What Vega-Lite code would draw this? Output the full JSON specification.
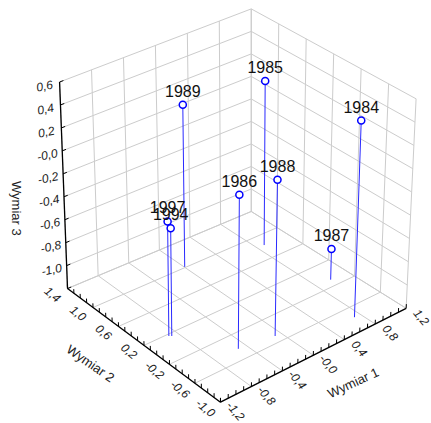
{
"$schema":"https://vega.github.io/schema/vega-lite/v6.json",
"width":431,"height":423,"padding":0,
"autosize":{"type":"fit","contains":"padding"},
"background":"white",
"config":{"view":{"stroke":null},"text":{"font":"Liberation Sans"}},
"datasets":{
"lines":[
{"g":"zL","t":-1.2},{"g":"zL","t":-1.0},{"g":"zL","t":-0.8},{"g":"zL","t":-0.6},{"g":"zL","t":-0.4},{"g":"zL","t":-0.2},{"g":"zL","t":0},{"g":"zL","t":0.2},{"g":"zL","t":0.4},{"g":"zL","t":0.6},
{"g":"zR","t":-1.2},{"g":"zR","t":-1.0},{"g":"zR","t":-0.8},{"g":"zR","t":-0.6},{"g":"zR","t":-0.4},{"g":"zR","t":-0.2},{"g":"zR","t":0},{"g":"zR","t":0.2},{"g":"zR","t":0.4},{"g":"zR","t":0.6},
{"g":"xL","t":-1.2},{"g":"xL","t":-0.8},{"g":"xL","t":-0.4},{"g":"xL","t":0},{"g":"xL","t":0.4},{"g":"xL","t":0.8},{"g":"xL","t":1.2},
{"g":"xF","t":-1.2},{"g":"xF","t":-0.8},{"g":"xF","t":-0.4},{"g":"xF","t":0},{"g":"xF","t":0.4},{"g":"xF","t":0.8},{"g":"xF","t":1.2},
{"g":"yR","t":-1.0},{"g":"yR","t":-0.6},{"g":"yR","t":-0.2},{"g":"yR","t":0.2},{"g":"yR","t":0.6},{"g":"yR","t":1.0},{"g":"yR","t":1.4},
{"g":"yF","t":-1.0},{"g":"yF","t":-0.6},{"g":"yF","t":-0.2},{"g":"yF","t":0.2},{"g":"yF","t":0.6},{"g":"yF","t":1.0},{"g":"yF","t":1.4},
{"g":"aX","t":0},{"g":"aY","t":0},{"g":"aZ","t":0},
{"g":"tX","t":-1.2},{"g":"tX","t":-1.1},{"g":"tX","t":-1.0},{"g":"tX","t":-0.9},{"g":"tX","t":-0.8},{"g":"tX","t":-0.7},{"g":"tX","t":-0.6},{"g":"tX","t":-0.5},{"g":"tX","t":-0.4},{"g":"tX","t":-0.3},{"g":"tX","t":-0.2},{"g":"tX","t":-0.1},{"g":"tX","t":0},{"g":"tX","t":0.1},{"g":"tX","t":0.2},{"g":"tX","t":0.3},{"g":"tX","t":0.4},{"g":"tX","t":0.5},{"g":"tX","t":0.6},{"g":"tX","t":0.7},{"g":"tX","t":0.8},{"g":"tX","t":0.9},{"g":"tX","t":1.0},{"g":"tX","t":1.1},{"g":"tX","t":1.2},
{"g":"tY","t":-1.0},{"g":"tY","t":-0.9},{"g":"tY","t":-0.8},{"g":"tY","t":-0.7},{"g":"tY","t":-0.6},{"g":"tY","t":-0.5},{"g":"tY","t":-0.4},{"g":"tY","t":-0.3},{"g":"tY","t":-0.2},{"g":"tY","t":-0.1},{"g":"tY","t":0},{"g":"tY","t":0.1},{"g":"tY","t":0.2},{"g":"tY","t":0.3},{"g":"tY","t":0.4},{"g":"tY","t":0.5},{"g":"tY","t":0.6},{"g":"tY","t":0.7},{"g":"tY","t":0.8},{"g":"tY","t":0.9},{"g":"tY","t":1.0},{"g":"tY","t":1.1},{"g":"tY","t":1.2},{"g":"tY","t":1.3},{"g":"tY","t":1.4},
{"g":"tZ","t":-1.2},{"g":"tZ","t":-1.0},{"g":"tZ","t":-0.8},{"g":"tZ","t":-0.6},{"g":"tZ","t":-0.4},{"g":"tZ","t":-0.2},{"g":"tZ","t":0},{"g":"tZ","t":0.2},{"g":"tZ","t":0.4},{"g":"tZ","t":0.6}
],
"pts":[
{"year":"1984","w1":0.725,"w2":-0.768,"w3":0.489},
{"year":"1985","w1":0.888,"w2":0.829,"w3":0.242},
{"year":"1986","w1":-0.497,"w2":-0.429,"w3":0.117},
{"year":"1987","w1":0.981,"w2":-0.092,"w3":-0.934},
{"year":"1988","w1":-0.076,"w2":-0.496,"w3":0.138},
{"year":"1989","w1":0.005,"w2":1.011,"w3":0.219},
{"year":"1997","w1":-0.900,"w2":0.172,"w3":-0.216},
{"year":"1994","w1":-0.877,"w2":0.154,"w3":-0.275}
],
"zlab":[{"t":0.6,"lab":"0,6"},{"t":0.4,"lab":"0,4"},{"t":0.2,"lab":"0,2"},{"t":0,"lab":"-0,0"},{"t":-0.2,"lab":"-0,2"},{"t":-0.4,"lab":"-0,4"},{"t":-0.6,"lab":"-0,6"},{"t":-0.8,"lab":"-0,8"},{"t":-1.0,"lab":"-1,0"}],
"xlab":[{"t":-1.2,"lab":"-1,2"},{"t":-0.8,"lab":"-0,8"},{"t":-0.4,"lab":"-0,4"},{"t":0,"lab":"-0,0"},{"t":0.4,"lab":"0,4"},{"t":0.8,"lab":"0,8"},{"t":1.2,"lab":"1,2"}],
"ylab":[{"t":-1.0,"lab":"-1,0"},{"t":-0.6,"lab":"-0,6"},{"t":-0.2,"lab":"-0,2"},{"t":0.2,"lab":"0,2"},{"t":0.6,"lab":"0,6"},{"t":1.0,"lab":"1,0"},{"t":1.4,"lab":"1,4"}]
},
"layer":[
{"data":{"name":"lines"},
"transform":[
{"calculate":"(datum.t+1.2)/2.4","as":"U"},
{"calculate":"(datum.t+1)/2.4","as":"V"},
{"calculate":"(datum.t+1.2)/1.8","as":"Wt"},
{"calculate":"indexof(['xL','xF','tX'],datum.g)>=0 ? datum.U : (indexof(['zR','yR'],datum.g)>=0 ? 1 : 0)","as":"ua"},
{"calculate":"indexof(['yR','yF','tY'],datum.g)>=0 ? datum.V : (indexof(['zL','xL','aZ','tZ'],datum.g)>=0 ? 1 : 0)","as":"va"},
{"calculate":"indexof(['zL','zR','tZ'],datum.g)>=0 ? datum.Wt : 0","as":"wa"},
{"calculate":"indexof(['xL','xF','tX'],datum.g)>=0 ? datum.U : (datum.g=='tZ' ? 0.02 : (indexof(['aY','aZ','tY'],datum.g)>=0 ? 0 : 1))","as":"ub"},
{"calculate":"indexof(['yR','yF','tY'],datum.g)>=0 ? datum.V : (indexof(['aX','tX'],datum.g)>=0 ? 0 : 1)","as":"vb"},
{"calculate":"indexof(['zL','zR','tZ'],datum.g)>=0 ? datum.Wt : (indexof(['xL','yR','aZ'],datum.g)>=0 ? 1 : (indexof(['tX','tY'],datum.g)>=0 ? 0.02 : 0))","as":"wb"},
{"calculate":"(1-datum.wa)*(222+187*datum.ua-154*datum.va-2*datum.ua*datum.va)+datum.wa*(223+196*datum.ua-163*datum.va-3*datum.ua*datum.va)","as":"xa"},
{"calculate":"(1-datum.wa)*(407-95*datum.ua-115*datum.va+17*datum.ua*datum.va)+datum.wa*(191-91*datum.ua-108*datum.va+17*datum.ua*datum.va)","as":"ya"},
{"calculate":"(1-datum.wb)*(222+187*datum.ub-154*datum.vb-2*datum.ub*datum.vb)+datum.wb*(223+196*datum.ub-163*datum.vb-3*datum.ub*datum.vb)","as":"xb"},
{"calculate":"(1-datum.wb)*(407-95*datum.ub-115*datum.vb+17*datum.ub*datum.vb)+datum.wb*(191-91*datum.ub-108*datum.vb+17*datum.ub*datum.vb)","as":"yb"}
],
"mark":{"type":"rule"},
"encoding":{
"x":{"field":"xa","type":"quantitative","scale":{"domain":[0,431],"nice":false,"zero":false},"axis":null},
"y":{"field":"ya","type":"quantitative","scale":{"domain":[0,423],"reverse":true,"nice":false,"zero":false},"axis":null},
"x2":{"field":"xb"},"y2":{"field":"yb"},
"color":{"condition":{"test":"indexof(['aX','aY','aZ','tX','tY','tZ'],datum.g)>=0","value":"#000000"},"value":"#cccccc"},
"strokeWidth":{"condition":{"test":"indexof(['aX','aY','aZ'],datum.g)>=0","value":1.3},"value":1}
}},
{"data":{"name":"pts"},
"transform":[
{"calculate":"(datum.w1+1.2)/2.4","as":"ua"},
{"calculate":"(datum.w2+1)/2.4","as":"va"},
{"calculate":"0","as":"wa"},
{"calculate":"datum.ua","as":"ub"},
{"calculate":"datum.va","as":"vb"},
{"calculate":"(datum.w3+1.2)/1.8","as":"wb"},
{"calculate":"(1-datum.wa)*(222+187*datum.ua-154*datum.va-2*datum.ua*datum.va)+datum.wa*(223+196*datum.ua-163*datum.va-3*datum.ua*datum.va)","as":"xa"},
{"calculate":"(1-datum.wa)*(407-95*datum.ua-115*datum.va+17*datum.ua*datum.va)+datum.wa*(191-91*datum.ua-108*datum.va+17*datum.ua*datum.va)","as":"ya"},
{"calculate":"(1-datum.wb)*(222+187*datum.ub-154*datum.vb-2*datum.ub*datum.vb)+datum.wb*(223+196*datum.ub-163*datum.vb-3*datum.ub*datum.vb)","as":"xb"},
{"calculate":"(1-datum.wb)*(407-95*datum.ub-115*datum.vb+17*datum.ub*datum.vb)+datum.wb*(191-91*datum.ub-108*datum.vb+17*datum.ub*datum.vb)","as":"yb"}
],
"layer":[
{"mark":{"type":"rule","color":"#2a2aff","strokeWidth":1},
"encoding":{
"x":{"field":"xa","type":"quantitative","scale":{"domain":[0,431],"nice":false,"zero":false},"axis":null},
"y":{"field":"ya","type":"quantitative","scale":{"domain":[0,423],"reverse":true,"nice":false,"zero":false},"axis":null},
"x2":{"field":"xb"},"y2":{"field":"yb"}}},
{"mark":{"type":"circle","fill":"white","stroke":"#0000ff","strokeWidth":1.5,"size":50,"opacity":1,"fillOpacity":1},
"encoding":{
"x":{"field":"xb","type":"quantitative","scale":{"domain":[0,431],"nice":false,"zero":false},"axis":null},
"y":{"field":"yb","type":"quantitative","scale":{"domain":[0,423],"reverse":true,"nice":false,"zero":false},"axis":null}}},
{"mark":{"type":"text","fontSize":16,"color":"#111111","dy":-8,"baseline":"alphabetic","align":"center"},
"encoding":{
"x":{"field":"xb","type":"quantitative","scale":{"domain":[0,431],"nice":false,"zero":false},"axis":null},
"y":{"field":"yb","type":"quantitative","scale":{"domain":[0,423],"reverse":true,"nice":false,"zero":false},"axis":null},
"text":{"field":"year"}}}
]},
{"data":{"name":"zlab"},
"transform":[
{"calculate":"0","as":"ua"},{"calculate":"1","as":"va"},{"calculate":"(datum.t+1.2)/1.8","as":"wa"},
{"calculate":"(1-datum.wa)*(222+187*datum.ua-154*datum.va-2*datum.ua*datum.va)+datum.wa*(223+196*datum.ua-163*datum.va-3*datum.ua*datum.va)","as":"xa"},
{"calculate":"(1-datum.wa)*(407-95*datum.ua-115*datum.va+17*datum.ua*datum.va)+datum.wa*(191-91*datum.ua-108*datum.va+17*datum.ua*datum.va)","as":"ya"}
],
"mark":{"type":"text","fontSize":12,"fontStyle":"italic","color":"#222222","angle":-12,"dx":-15.5,"dy":1,"align":"center","baseline":"middle"},
"encoding":{
"x":{"field":"xa","type":"quantitative","scale":{"domain":[0,431],"nice":false,"zero":false},"axis":null},
"y":{"field":"ya","type":"quantitative","scale":{"domain":[0,423],"reverse":true,"nice":false,"zero":false},"axis":null},
"text":{"field":"lab"}}},
{"data":{"name":"xlab"},
"transform":[
{"calculate":"(datum.t+1.2)/2.4","as":"ua"},{"calculate":"0","as":"va"},{"calculate":"0","as":"wa"},
{"calculate":"(1-datum.wa)*(222+187*datum.ua-154*datum.va-2*datum.ua*datum.va)+datum.wa*(223+196*datum.ua-163*datum.va-3*datum.ua*datum.va)","as":"xa"},
{"calculate":"(1-datum.wa)*(407-95*datum.ua-115*datum.va+17*datum.ua*datum.va)+datum.wa*(191-91*datum.ua-108*datum.va+17*datum.ua*datum.va)","as":"ya"}
],
"mark":{"type":"text","fontSize":12,"fontStyle":"italic","color":"#222222","angle":50,"dx":16.5,"dy":-5.7,"align":"center","baseline":"middle"},
"encoding":{
"x":{"field":"xa","type":"quantitative","scale":{"domain":[0,431],"nice":false,"zero":false},"axis":null},
"y":{"field":"ya","type":"quantitative","scale":{"domain":[0,423],"reverse":true,"nice":false,"zero":false},"axis":null},
"text":{"field":"lab"}}},
{"data":{"name":"ylab"},
"transform":[
{"calculate":"0","as":"ua"},{"calculate":"(datum.t+1)/2.4","as":"va"},{"calculate":"0","as":"wa"},
{"calculate":"(1-datum.wa)*(222+187*datum.ua-154*datum.va-2*datum.ua*datum.va)+datum.wa*(223+196*datum.ua-163*datum.va-3*datum.ua*datum.va)","as":"xa"},
{"calculate":"(1-datum.wa)*(407-95*datum.ua-115*datum.va+17*datum.ua*datum.va)+datum.wa*(191-91*datum.ua-108*datum.va+17*datum.ua*datum.va)","as":"ya"}
],
"mark":{"type":"text","fontSize":12,"fontStyle":"italic","color":"#222222","angle":40,"dx":-7.6,"dy":14.2,"align":"center","baseline":"middle"},
"encoding":{
"x":{"field":"xa","type":"quantitative","scale":{"domain":[0,431],"nice":false,"zero":false},"axis":null},
"y":{"field":"ya","type":"quantitative","scale":{"domain":[0,423],"reverse":true,"nice":false,"zero":false},"axis":null},
"text":{"field":"lab"}}},
{"data":{"values":[{"lab":"Wymiar 1","t":0}]},
"transform":[
{"calculate":"(datum.t+1.2)/2.4","as":"ua"},{"calculate":"0","as":"va"},{"calculate":"0","as":"wa"},
{"calculate":"(1-datum.wa)*(222+187*datum.ua-154*datum.va-2*datum.ua*datum.va)+datum.wa*(223+196*datum.ua-163*datum.va-3*datum.ua*datum.va)","as":"xa"},
{"calculate":"(1-datum.wa)*(407-95*datum.ua-115*datum.va+17*datum.ua*datum.va)+datum.wa*(191-91*datum.ua-108*datum.va+17*datum.ua*datum.va)","as":"ya"}
],
"mark":{"type":"text","fontSize":13,"color":"#222222","angle":-25,"dx":24.4,"dy":42.3,"align":"center","baseline":"middle"},
"encoding":{
"x":{"field":"xa","type":"quantitative","scale":{"domain":[0,431],"nice":false,"zero":false},"axis":null},
"y":{"field":"ya","type":"quantitative","scale":{"domain":[0,423],"reverse":true,"nice":false,"zero":false},"axis":null},
"text":{"field":"lab"}}},
{"data":{"values":[{"lab":"Wymiar 2","t":0.4}]},
"transform":[
{"calculate":"0","as":"ua"},{"calculate":"(datum.t+1)/2.4","as":"va"},{"calculate":"0","as":"wa"},
{"calculate":"(1-datum.wa)*(222+187*datum.ua-154*datum.va-2*datum.ua*datum.va)+datum.wa*(223+196*datum.ua-163*datum.va-3*datum.ua*datum.va)","as":"xa"},
{"calculate":"(1-datum.wa)*(407-95*datum.ua-115*datum.va+17*datum.ua*datum.va)+datum.wa*(191-91*datum.ua-108*datum.va+17*datum.ua*datum.va)","as":"ya"}
],
"mark":{"type":"text","fontSize":13,"color":"#222222","angle":35,"dx":-17.5,"dy":46.4,"align":"center","baseline":"middle"},
"encoding":{
"x":{"field":"xa","type":"quantitative","scale":{"domain":[0,431],"nice":false,"zero":false},"axis":null},
"y":{"field":"ya","type":"quantitative","scale":{"domain":[0,423],"reverse":true,"nice":false,"zero":false},"axis":null},
"text":{"field":"lab"}}},
{"data":{"values":[{"lab":"Wymiar 3","t":-0.3}]},
"transform":[
{"calculate":"0","as":"ua"},{"calculate":"1","as":"va"},{"calculate":"(datum.t+1.2)/1.8","as":"wa"},
{"calculate":"(1-datum.wa)*(222+187*datum.ua-154*datum.va-2*datum.ua*datum.va)+datum.wa*(223+196*datum.ua-163*datum.va-3*datum.ua*datum.va)","as":"xa"},
{"calculate":"(1-datum.wa)*(407-95*datum.ua-115*datum.va+17*datum.ua*datum.va)+datum.wa*(191-91*datum.ua-108*datum.va+17*datum.ua*datum.va)","as":"ya"}
],
"mark":{"type":"text","fontSize":13,"color":"#222222","angle":90,"dx":23,"dy":48,"align":"center","baseline":"middle"},
"encoding":{
"x":{"field":"xa","type":"quantitative","scale":{"domain":[0,431],"nice":false,"zero":false},"axis":null},
"y":{"field":"ya","type":"quantitative","scale":{"domain":[0,423],"reverse":true,"nice":false,"zero":false},"axis":null},
"text":{"field":"lab"}}}
]
}
